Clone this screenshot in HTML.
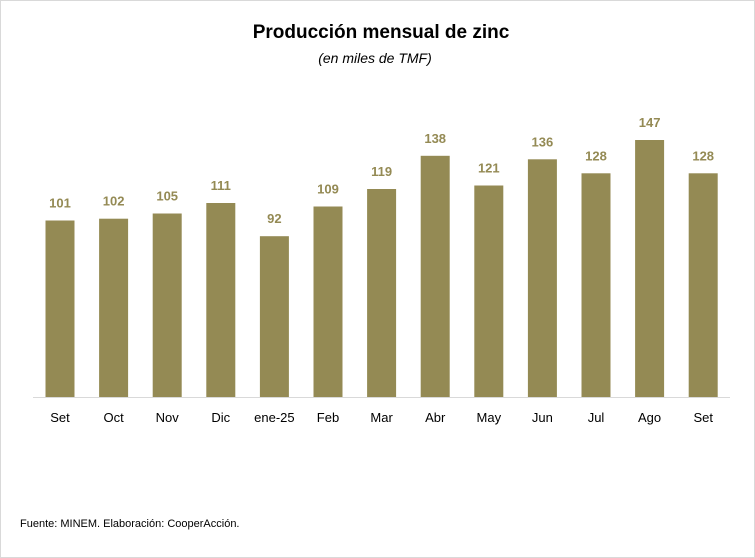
<!DOCTYPE html>
<html><head><meta charset="utf-8"><style>
body{margin:0;background:#fff}
svg{display:block}
text{font-family:"Liberation Sans",sans-serif}
.v{font-size:13px;font-weight:bold;fill:#948A54;text-anchor:middle}
.l{font-size:13px;fill:#000;text-anchor:middle}
</style></head><body>
<svg width="755" height="558" viewBox="0 0 755 558">
<rect x="0.5" y="0.5" width="754" height="557" fill="#fff" stroke="#d9d9d9"/>
<text x="381" y="38" text-anchor="middle" font-size="19" font-weight="bold" fill="#000">Producción mensual de zinc</text>
<text x="375" y="63" text-anchor="middle" font-size="14" font-style="italic" fill="#000">(en miles de TMF)</text>
<line x1="33" y1="397.5" x2="730" y2="397.5" stroke="#d9d9d9" stroke-width="1"/>
<g fill="#948A54">
<rect x="45.5" y="220.5" width="29" height="176.5"/>
<rect x="99.1" y="218.7" width="29" height="178.3"/>
<rect x="152.7" y="213.5" width="29" height="183.5"/>
<rect x="206.3" y="203" width="29" height="194"/>
<rect x="259.9" y="236.2" width="29" height="160.8"/>
<rect x="313.5" y="206.5" width="29" height="190.5"/>
<rect x="367.1" y="189" width="29" height="208"/>
<rect x="420.7" y="155.8" width="29" height="241.2"/>
<rect x="474.3" y="185.5" width="29" height="211.5"/>
<rect x="527.9" y="159.3" width="29" height="237.7"/>
<rect x="581.5" y="173.3" width="29" height="223.7"/>
<rect x="635.1" y="140" width="29" height="257"/>
<rect x="688.7" y="173.3" width="29" height="223.7"/>
</g>
<text class="v" x="60" y="207.5">101</text>
<text class="v" x="113.6" y="205.7">102</text>
<text class="v" x="167.2" y="200.5">105</text>
<text class="v" x="220.8" y="190">111</text>
<text class="v" x="274.4" y="223.2">92</text>
<text class="v" x="328" y="193.5">109</text>
<text class="v" x="381.6" y="176">119</text>
<text class="v" x="435.2" y="142.8">138</text>
<text class="v" x="488.8" y="172.5">121</text>
<text class="v" x="542.4" y="146.3">136</text>
<text class="v" x="596" y="160.3">128</text>
<text class="v" x="649.6" y="127">147</text>
<text class="v" x="703.2" y="160.3">128</text>
<text class="l" x="60" y="422">Set</text>
<text class="l" x="113.6" y="422">Oct</text>
<text class="l" x="167.2" y="422">Nov</text>
<text class="l" x="220.8" y="422">Dic</text>
<text class="l" x="274.4" y="422">ene-25</text>
<text class="l" x="328" y="422">Feb</text>
<text class="l" x="381.6" y="422">Mar</text>
<text class="l" x="435.2" y="422">Abr</text>
<text class="l" x="488.8" y="422">May</text>
<text class="l" x="542.4" y="422">Jun</text>
<text class="l" x="596" y="422">Jul</text>
<text class="l" x="649.6" y="422">Ago</text>
<text class="l" x="703.2" y="422">Set</text>
<text x="20" y="527" font-size="11" fill="#000">Fuente: MINEM. Elaboración: CooperAcción.</text>
</svg>
</body></html>
